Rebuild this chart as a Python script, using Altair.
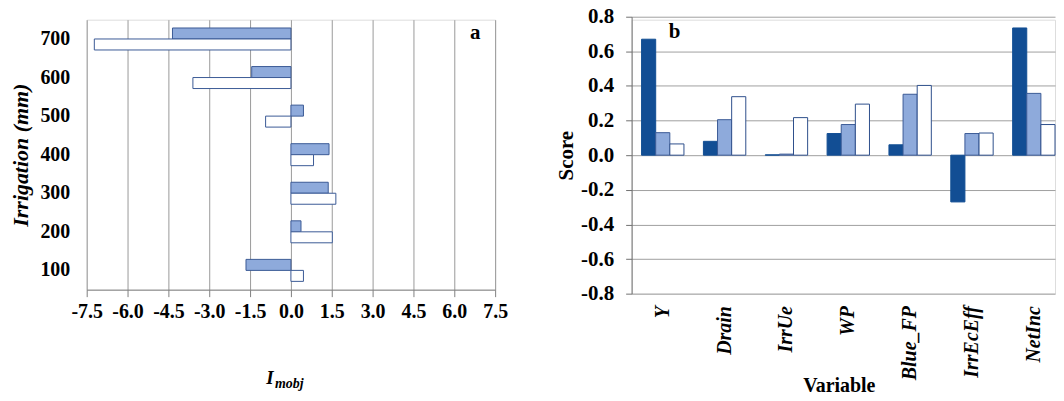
import altair as alt
import pandas as pd

FONT = "Liberation Serif"

# ---------------- Panel a data ----------------
irrigation = ["700", "600", "500", "400", "300", "200", "100"]
imobj_series = ["first", "second"]
imobj_first = [-4.35, -1.44, 0.46, 1.40, 1.37, 0.37, -1.65]
imobj_second = [-7.22, -3.60, -0.93, 0.83, 1.65, 1.52, 0.46]
imobj_ticks = [-7.5, -6.0, -4.5, -3.0, -1.5, 0.0, 1.5, 3.0, 4.5, 6.0, 7.5]

# ---------------- Panel b data ----------------
variables = ["Y", "Drain", "IrrUe", "WP", "Blue_FP", "IrrEcEff", "NetInc"]
score_series = ["s1", "s2", "s3"]
score_s1 = [0.67, 0.08, 0.002, 0.125, 0.06, -0.27, 0.735]
score_s2 = [0.13, 0.205, 0.006, 0.177, 0.352, 0.125, 0.357]
score_s3 = [0.065, 0.338, 0.217, 0.295, 0.403, 0.128, 0.177]
score_ticks = [-0.8, -0.6, -0.4, -0.2, 0.0, 0.2, 0.4, 0.6, 0.8]

dfa = pd.DataFrame({
    "irr": irrigation * 2,
    "series": [imobj_series[0]] * len(irrigation) + [imobj_series[1]] * len(irrigation),
    "value": imobj_first + imobj_second,
})

dfb = pd.DataFrame({
    "variable": variables * 3,
    "series": sum([[s] * len(variables) for s in score_series], []),
    "score": score_s1 + score_s2 + score_s3,
})

LIGHT = "#8EAADB"
DARK = "#124E94"
EDGE = "#3B5A96"
hyphen = "replace(datum.label, '\u2212', '-')"

# ---------------- Panel a ----------------
WA, HA = 410, 271
bars_a = alt.Chart(dfa).mark_bar(strokeWidth=1).encode(
    x=alt.X("value:Q",
            scale=alt.Scale(domain=[-7.5, 7.5], nice=False),
            axis=alt.Axis(values=imobj_ticks, format=".1f", labelExpr=hyphen,
                          labelOverlap=False, labelFlush=False,
                          grid=True, gridColor="#9a9a9a", domainColor="#808080",
                          tickColor="#808080", tickSize=7, labelPadding=5,
                          labelFont=FONT, labelFontSize=20, labelFontWeight="bold",
                          labelColor="black", title=None)),
    y=alt.Y("irr:N", sort=irrigation,
            scale=alt.Scale(paddingInner=0.43, paddingOuter=0.215),
            axis=alt.Axis(title="Irrigation (mm)", ticks=False, tickSize=0, domain=False,
                          grid=False, labelPadding=17, labelOverlap=False,
                          labelFont=FONT, labelFontSize=20, labelFontWeight="bold",
                          labelColor="black", titleFont=FONT, titleFontSize=22,
                          titleFontWeight="bold", titleFontStyle="italic",
                          titleColor="black", titlePadding=7)),
    yOffset=alt.YOffset("series:N", sort=imobj_series,
                        scale=alt.Scale(paddingInner=0, paddingOuter=0)),
    color=alt.Color("series:N", scale=alt.Scale(domain=imobj_series, range=[LIGHT, "white"]),
                    legend=None),
    stroke=alt.Stroke("series:N", scale=alt.Scale(domain=imobj_series, range=[EDGE, EDGE]),
                      legend=None),
)

lab_a = alt.Chart(pd.DataFrame({"t": ["a"]})).mark_text(
    font=FONT, fontSize=21, fontWeight="bold", color="black"
).encode(text="t:N", x=alt.value(390), y=alt.value(13))

main_i = alt.Chart(pd.DataFrame({"t": ["I"]})).mark_text(
    font=FONT, fontSize=19, fontWeight="bold", fontStyle="italic", color="black",
    align="center", baseline="alphabetic"
).encode(text="t:N", x=alt.value(184), y=alt.value(366))

sub_i = alt.Chart(pd.DataFrame({"t": ["mobj"]})).mark_text(
    font=FONT, fontSize=14, fontWeight="bold", fontStyle="italic", color="black",
    align="left", baseline="alphabetic"
).encode(text="t:N", x=alt.value(189), y=alt.value(370))

panel_a = alt.layer(bars_a, lab_a, main_i, sub_i).properties(width=WA, height=HA)

# ---------------- Panel b ----------------
WB, HB = 425, 275
bars_b = alt.Chart(dfb).mark_bar(strokeWidth=1).encode(
    x=alt.X("variable:N", sort=variables,
            scale=alt.Scale(paddingInner=0.315, paddingOuter=0.0805, align=1),
            axis=alt.Axis(title="Variable", labelAngle=270, labelAlign="right",
                          labelBaseline="middle", ticks=False, tickSize=0,
                          domain=False, labelPadding=12, labelOverlap=False,
                          labelFont=FONT, labelFontSize=20, labelFontWeight="bold",
                          labelFontStyle="italic", labelColor="black",
                          titleFont=FONT, titleFontSize=20, titleFontWeight="bold",
                          titleColor="black", titlePadding=-4, titleX=208)),
    xOffset=alt.XOffset("series:N", sort=score_series,
                        scale=alt.Scale(paddingInner=0, paddingOuter=0)),
    y=alt.Y("score:Q",
            scale=alt.Scale(domain=[-0.8, 0.8], nice=False, range=[HB, -3]),
            axis=alt.Axis(values=score_ticks, format=".1f", labelExpr=hyphen,
                          labelOverlap=False, labelFlush=False,
                          grid=True, gridColor="#a0a0a0", domainColor="#707070",
                          tickColor="#707070", tickSize=6, labelPadding=12,
                          labelFont=FONT, labelFontSize=21, labelFontWeight="bold",
                          labelColor="black", title="Score", titleFont=FONT,
                          titleFontSize=21, titleFontWeight="bold", titleColor="black",
                          titlePadding=4)),
    color=alt.Color("series:N", scale=alt.Scale(domain=score_series,
                                                range=[DARK, LIGHT, "white"]),
                    legend=None),
    stroke=alt.Stroke("series:N", scale=alt.Scale(domain=score_series,
                                                  range=[DARK, EDGE, "#2E4F8C"]),
                      legend=None),
)

lab_b = alt.Chart(pd.DataFrame({"t": ["b"]})).mark_text(
    font=FONT, fontSize=21, fontWeight="bold", color="black"
).encode(text="t:N", x=alt.value(43), y=alt.value(12))

panel_b = alt.layer(bars_b, lab_b).properties(width=WB, height=HB)

chart = alt.hconcat(panel_a, panel_b, spacing=47).resolve_scale(
    color="independent", stroke="independent"
).properties(
    padding={"left": 1, "top": -4, "right": 0, "bottom": -1}
).configure_view(stroke=None).configure(font=FONT)

chart.save("out.html", embed_options={"renderer": "svg", "actions": False})
